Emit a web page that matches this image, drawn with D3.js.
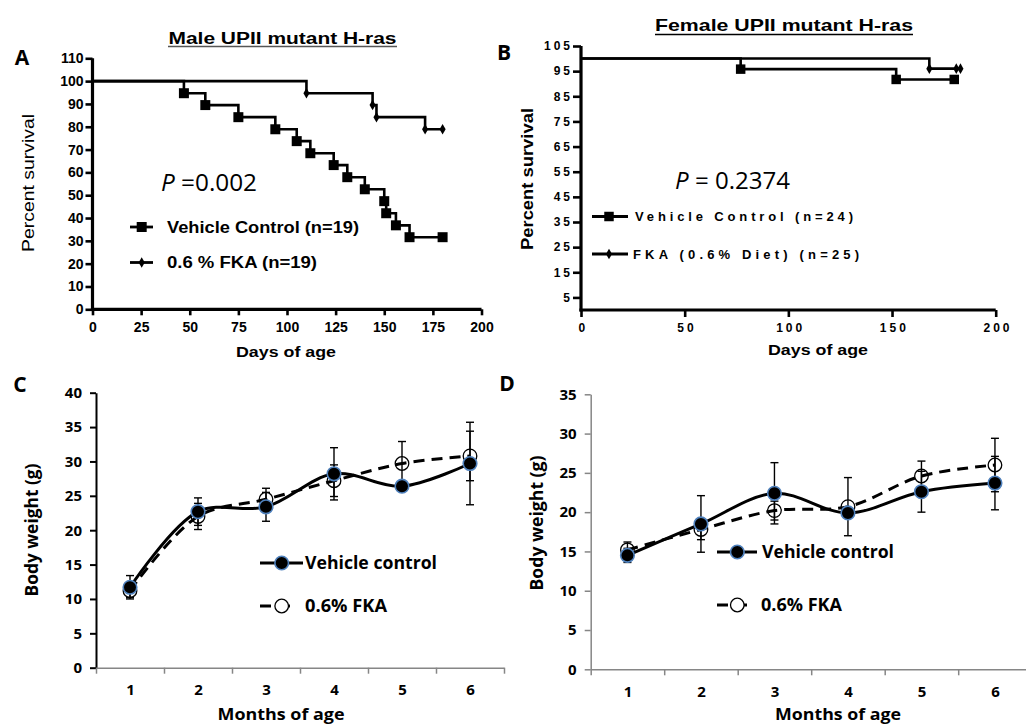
<!DOCTYPE html>
<html><head><meta charset="utf-8">
<script src="https://cdn.jsdelivr.net/npm/d3@7"></script>
<style>body{margin:0;background:#fff}svg{display:block}</style>
</head><body><svg id="c" width="1026" height="727"></svg>
<script>
// ---------- DATA ----------
// Panel A: male survival (Kaplan-Meier steps)
const maleVehDays = [0,47,58,75,94,105,112,124,131,140,150,151,156,163,180];
const maleVehSurv = [100,94.7,89.5,84.2,78.9,73.7,68.4,63.2,57.9,52.6,47.4,42.1,36.8,31.6,31.6];
const maleFkaDays = [0,110,144,146,171,180];
const maleFkaSurv = [100,94.7,89.5,84.2,78.9,78.9];
const maleYTicks = [0,10,20,30,40,50,60,70,80,90,100,110];
const maleXTicks = [0,25,50,75,100,125,150,175,200];
// Panel B: female survival
const femVehDays = [0,77,152,180];
const femVehSurv = [100,95.8,91.7,91.7];
const femFkaDays = [0,168,181,183];
const femFkaSurv = [100,96,96,96];
const femYTicks = [5,15,25,35,45,55,65,75,85,95,105];
const femXTicks = [0,50,100,150,200];
// Panels C/D: body weight
const months = [1,2,3,4,5,6];
const maleVehWt  = [11.7,22.7,23.4,28.2,26.4,29.7];
const maleVehErr = [1.7,2.0,2.1,3.8,0.3,6.0];
const maleFkaWt  = [11.2,22.0,24.5,27.2,29.7,30.8];
const maleFkaErr = [1.0,1.9,1.6,2.3,3.2,3.6];
const femVehWt   = [14.5,18.5,22.4,19.9,22.6,23.7];
const femVehErr  = [0.9,3.6,3.9,0.5,2.6,3.4];
const femFkaWt   = [15.2,17.8,20.2,20.7,24.6,26.0];
const femFkaErr  = [1.0,1.3,1.2,3.7,1.9,3.4];
const maleWtTicks = [0,5,10,15,20,25,30,35,40];
const femWtTicks  = [0,5,10,15,20,25,30,35];

// ---------- HELPERS ----------
const svg = d3.select("#c");
const ARIAL = "'Liberation Sans', Arial, sans-serif";
const CAL = "'Open Sans', 'Noto Sans', sans-serif";
function label(g, str, x, y, o) {
  const t = g.append("text").attr("x", x).attr("y", y)
    .attr("font-family", o.family || ARIAL)
    .attr("font-size", o.size)
    .attr("font-weight", o.weight || "normal")
    .attr("text-anchor", o.anchor || "start")
    .attr("dy", o.dy !== undefined ? o.dy : "0.35em")
    .attr("fill", "#000");
  if (o.italicFirst) {
    t.append("tspan").attr("font-style", "italic").text(o.italicFirst);
    t.append("tspan").text(str);
  } else t.text(str);
  if (o.width) t.attr("textLength", o.width).attr("lengthAdjust", o.adjust || "spacingAndGlyphs");
  if (o.rotate) t.attr("transform", `rotate(-90,${x},${y})`);
  if (o.ls) t.style("letter-spacing", o.ls);
  return t;
}
function zip(a, b) { return a.map((v, i) => [v, b[i]]); }

// ---------- SURVIVAL PANEL ----------
function survival(cfg) {
  const g = svg.append("g");
  const x = d3.scaleLinear().domain(cfg.xDomain).range(cfg.xRange);
  const y = d3.scaleLinear().domain(cfg.yDomain).range(cfg.yRange);
  const ya = g.append("g").attr("transform", `translate(${cfg.xRange[0]},0)`)
    .call(d3.axisLeft(y).tickValues(cfg.yTicks).tickSize(cfg.tick).tickSizeOuter(0).tickPadding(cfg.yPad));
  const xa = g.append("g").attr("transform", `translate(0,${cfg.yRange[0]})`)
    .call(d3.axisBottom(x).tickValues(cfg.xTicks).tickSize(cfg.tick - 1).tickSizeOuter(0).tickPadding(cfg.xPad));
  [ya, xa].forEach(a => {
    a.select(".domain").attr("stroke", "#000").attr("stroke-width", 3.2);
    a.selectAll(".tick line").attr("stroke", "#000").attr("stroke-width", 2.6);
    a.selectAll(".tick text").attr("font-family", ARIAL).attr("font-weight", "bold")
      .attr("font-size", cfg.tickFont).attr("fill", "#000");
    if (cfg.tickLS) a.selectAll(".tick text").style("letter-spacing", cfg.tickLS);
  });
  if (cfg.tickLS) xa.selectAll(".tick text").attr("dx", "0.15em");
  ya.select(".domain").attr("d", `M0,${cfg.yRange[0] + 1.6}V${cfg.yRange[1]}`);
  xa.select(".domain").attr("d", `M${cfg.xRange[0] - 1.6},0H${cfg.xRange[1]}`);

  const line = d3.line().curve(d3.curveStepAfter).x(d => x(d[0])).y(d => y(d[1]));
  cfg.series.forEach(s => {
    const pts = zip(s.days, s.surv);
    g.append("path").attr("d", line(pts)).attr("fill", "none")
      .attr("stroke", "#000").attr("stroke-width", 2.6);
    g.selectAll(null).data(pts.slice(1)).join("path")
      .attr("transform", d => `translate(${x(d[0])},${y(d[1])})`)
      .attr("d", d3.symbol(s.symbol, s.symSize)())
      .attr("fill", "#000");
  });
  return {g, x, y};
}

// Panel A
survival({
  xDomain: [0, 200], xRange: [92.5, 481.5],
  yDomain: [0, 110], yRange: [309.3, 58.3],
  yTicks: maleYTicks, xTicks: maleXTicks, tick: 7, yPad: 2, xPad: 7,
  tickFont: 14,
  series: [
    {days: maleVehDays, surv: maleVehSurv, symbol: d3.symbolSquare, symSize: 100},
    {days: maleFkaDays, surv: maleFkaSurv, symbol: d3.symbolDiamond, symSize: 32}
  ]
});
// Panel B
survival({
  xDomain: [0, 200], xRange: [581, 995.7],
  yDomain: [0, 105], yRange: [310, 46],
  yTicks: femYTicks, xTicks: femXTicks, tick: 8, yPad: 0, xPad: 6,
  tickFont: 12, tickLS: "3px",
  series: [
    {days: femVehDays, surv: femVehSurv, symbol: d3.symbolSquare, symSize: 90},
    {days: femFkaDays, surv: femFkaSurv, symbol: d3.symbolDiamond, symSize: 32}
  ]
});

// Titles
label(svg, "Male UPII mutant H-ras", 282.5, 43.5, {size: 16, weight: "bold", anchor: "middle", width: 228, dy: "0"});
svg.append("line").attr("x1", 168).attr("x2", 397).attr("y1", 46.5).attr("y2", 46.5).attr("stroke", "#555").attr("stroke-width", 1.3);
label(svg, "Female UPII mutant H-ras", 784, 30.5, {size: 17, weight: "bold", anchor: "middle", width: 258, dy: "0"});
svg.append("line").attr("x1", 655).attr("x2", 913).attr("y1", 34.5).attr("y2", 34.5).attr("stroke", "#000").attr("stroke-width", 1.4);

// Panel letters
label(svg, "A", 22, 58, {size: 21, weight: "bold", anchor: "middle", family: CAL});
label(svg, "B", 504, 53, {size: 21, weight: "bold", anchor: "middle", family: CAL});
label(svg, "C", 20, 385, {size: 21, weight: "bold", anchor: "middle", family: CAL});
label(svg, "D", 507, 384, {size: 21, weight: "bold", anchor: "middle", family: CAL});

// Axis labels A/B
label(svg, "Percent survival", 28, 183, {size: 17, anchor: "middle", rotate: true, width: 138});
label(svg, "Days of age", 286, 352, {size: 15, weight: "bold", anchor: "middle", width: 100});
label(svg, "Percent survival", 527, 179, {size: 17, weight: "bold", anchor: "middle", rotate: true, width: 142});
label(svg, "Days of age", 818, 350, {size: 15, weight: "bold", anchor: "middle", width: 100});

// P values
label(svg, " =0.002", 161, 183, {size: 24, family: CAL, italicFirst: "P", width: 96});
label(svg, " = 0.2374", 675, 181, {size: 24, family: CAL, italicFirst: "P", width: 115});

// Survival legends
function survLegend(x1, x2, xm, y, symbol, size, txt, tx, tw, o) {
  svg.append("line").attr("x1", x1).attr("x2", x2).attr("y1", y).attr("y2", y)
    .attr("stroke", "#000").attr("stroke-width", 2.8);
  svg.append("path").attr("transform", `translate(${xm},${y})`)
    .attr("d", d3.symbol(symbol, size)()).attr("fill", "#000");
  label(svg, txt, tx, y, Object.assign({weight: "bold", width: tw}, o));
}
survLegend(130, 153, 141.7, 227, d3.symbolSquare, 100, "Vehicle Control (n=19)", 167, 192, {size: 16});
survLegend(130, 153, 141.7, 262.5, d3.symbolDiamond, 32, "0.6 % FKA (n=19)", 167, 150, {size: 16});
survLegend(592, 628, 609, 216.5, d3.symbolSquare, 90, "Vehicle Control (n=24)", 635, 218, {size: 13, adjust: "spacing"});
survLegend(592, 628, 609, 254, d3.symbolDiamond, 32, "FKA (0.6% Diet) (n=25)", 633, 226, {size: 13, adjust: "spacing"});

// ---------- WEIGHT PANELS ----------
function weight(cfg) {
  const g = svg.append("g");
  const x = d3.scaleLinear().domain([0.5, 6.5]).range(cfg.xRange);
  const y = d3.scaleLinear().domain(cfg.yDomain).range(cfg.yRange);
  const bounds = d3.range(0.5, 6.6, 1);
  const ya = g.append("g").attr("transform", `translate(${cfg.xRange[0]},0)`)
    .call(d3.axisLeft(y).tickValues(cfg.yTicks).tickSize(6).tickSizeOuter(0).tickPadding(8));
  ya.select(".domain").attr("stroke", cfg.yAxisColor).attr("stroke-width", cfg.yAxisW);
  ya.selectAll(".tick line").attr("stroke", cfg.yAxisColor).attr("stroke-width", cfg.yAxisW);
  const xt = g.append("g").attr("transform", `translate(0,${cfg.yRange[0]})`)
    .call(d3.axisBottom(x).tickValues(bounds).tickSize(6).tickSizeOuter(0).tickFormat(""));
  xt.select(".domain").attr("stroke", "#868686").attr("stroke-width", 1.5);
  xt.selectAll(".tick line").attr("stroke", "#868686").attr("stroke-width", 1.5);
  const xl = g.append("g").attr("transform", `translate(0,${cfg.yRange[0]})`)
    .call(d3.axisBottom(x).tickValues(months).tickSize(0).tickPadding(17).tickFormat(d3.format("d")));
  xl.select(".domain").remove();
  [ya, xl].forEach(a => a.selectAll(".tick text").attr("font-family", CAL).attr("font-weight", "bold")
    .attr("font-size", 15).attr("fill", "#000"));

  const ser = [
    {v: cfg.fka, e: cfg.fkaErr, dash: "11,7", open: true},
    {v: cfg.veh, e: cfg.vehErr, dash: null, open: false}
  ];
  ser.forEach(s => {
    const eb = g.append("g").attr("stroke", "#000").attr("stroke-width", 1.4);
    months.forEach((m, i) => {
      const cx = x(m), t = y(s.v[i] + s.e[i]), b = y(s.v[i] - s.e[i]);
      eb.append("line").attr("x1", cx).attr("x2", cx).attr("y1", t).attr("y2", b);
      eb.append("line").attr("x1", cx - 4).attr("x2", cx + 4).attr("y1", t).attr("y2", t);
      eb.append("line").attr("x1", cx - 4).attr("x2", cx + 4).attr("y1", b).attr("y2", b);
    });
  });
  const line = d3.line().curve(d3.curveCatmullRom.alpha(0.5)).x((d, i) => x(months[i])).y(d => y(d));
  ser.forEach(s => {
    g.append("path").attr("d", line(s.v)).attr("fill", "none").attr("stroke", "#000")
      .attr("stroke-width", 3).attr("stroke-dasharray", s.dash);
  });
  ser.forEach(s => {
    g.selectAll(null).data(s.v).join("circle")
      .attr("cx", (d, i) => x(months[i])).attr("cy", d => y(d)).attr("r", 6.8)
      .attr("fill", s.open ? "none" : "#000")
      .attr("stroke", s.open ? "#000" : "#4f81bd").attr("stroke-width", s.open ? 1.3 : 1.6);
  });
  const L = cfg.legend;
  svg.append("line").attr("x1", L.x1).attr("x2", L.x2).attr("y1", L.y1).attr("y2", L.y1)
    .attr("stroke", "#000").attr("stroke-width", 3);
  svg.append("circle").attr("cx", L.xm).attr("cy", L.y1).attr("r", 6.8).attr("fill", "#000")
    .attr("stroke", "#4f81bd").attr("stroke-width", 1.6);
  label(svg, "Vehicle control", L.tx1, L.y1, {size: 18, weight: "bold", family: CAL, width: L.w1});
  svg.append("line").attr("x1", L.x1).attr("x2", L.x2 - 8).attr("y1", L.y2).attr("y2", L.y2)
    .attr("stroke", "#000").attr("stroke-width", 3).attr("stroke-dasharray", "11,8");
  svg.append("circle").attr("cx", L.xm).attr("cy", L.y2).attr("r", 6.8).attr("fill", "#fff")
    .attr("stroke", "#000").attr("stroke-width", 1.3);
  label(svg, "0.6% FKA", L.tx2, L.y2, {size: 18, weight: "bold", family: CAL, width: L.w2});
  label(svg, "Body weight (g)", cfg.ylab[0], cfg.ylab[1], {size: 17, weight: "bold", family: CAL, anchor: "middle", rotate: true, width: cfg.ylab[2]});
  label(svg, "Months of age", cfg.xlab[0], cfg.xlab[1], {size: 16, weight: "bold", family: CAL, anchor: "middle", width: cfg.xlab[2]});
}

weight({
  xRange: [96, 504], yDomain: [0, 40], yRange: [667.7, 392.7], yTicks: maleWtTicks,
  yAxisColor: "#000", yAxisW: 2,
  veh: maleVehWt, vehErr: maleVehErr, fka: maleFkaWt, fkaErr: maleFkaErr,
  legend: {x1: 260, x2: 303, xm: 281.7, y1: 563, tx1: 305, w1: 132, y2: 606, tx2: 305, w2: 82},
  ylab: [32, 530, 133], xlab: [281, 714, 127]
});
weight({
  xRange: [590.7, 1031.7], yDomain: [0, 35], yRange: [669.3, 394.3], yTicks: femWtTicks,
  yAxisColor: "#868686", yAxisW: 1.5,
  veh: femVehWt, vehErr: femVehErr, fka: femFkaWt, fkaErr: femFkaErr,
  legend: {x1: 717, x2: 757, xm: 737.3, y1: 552, tx1: 762, w1: 132, y2: 605, tx2: 761, w2: 81},
  ylab: [537, 523, 135], xlab: [838, 714, 126]
});
</script>
</body></html>
